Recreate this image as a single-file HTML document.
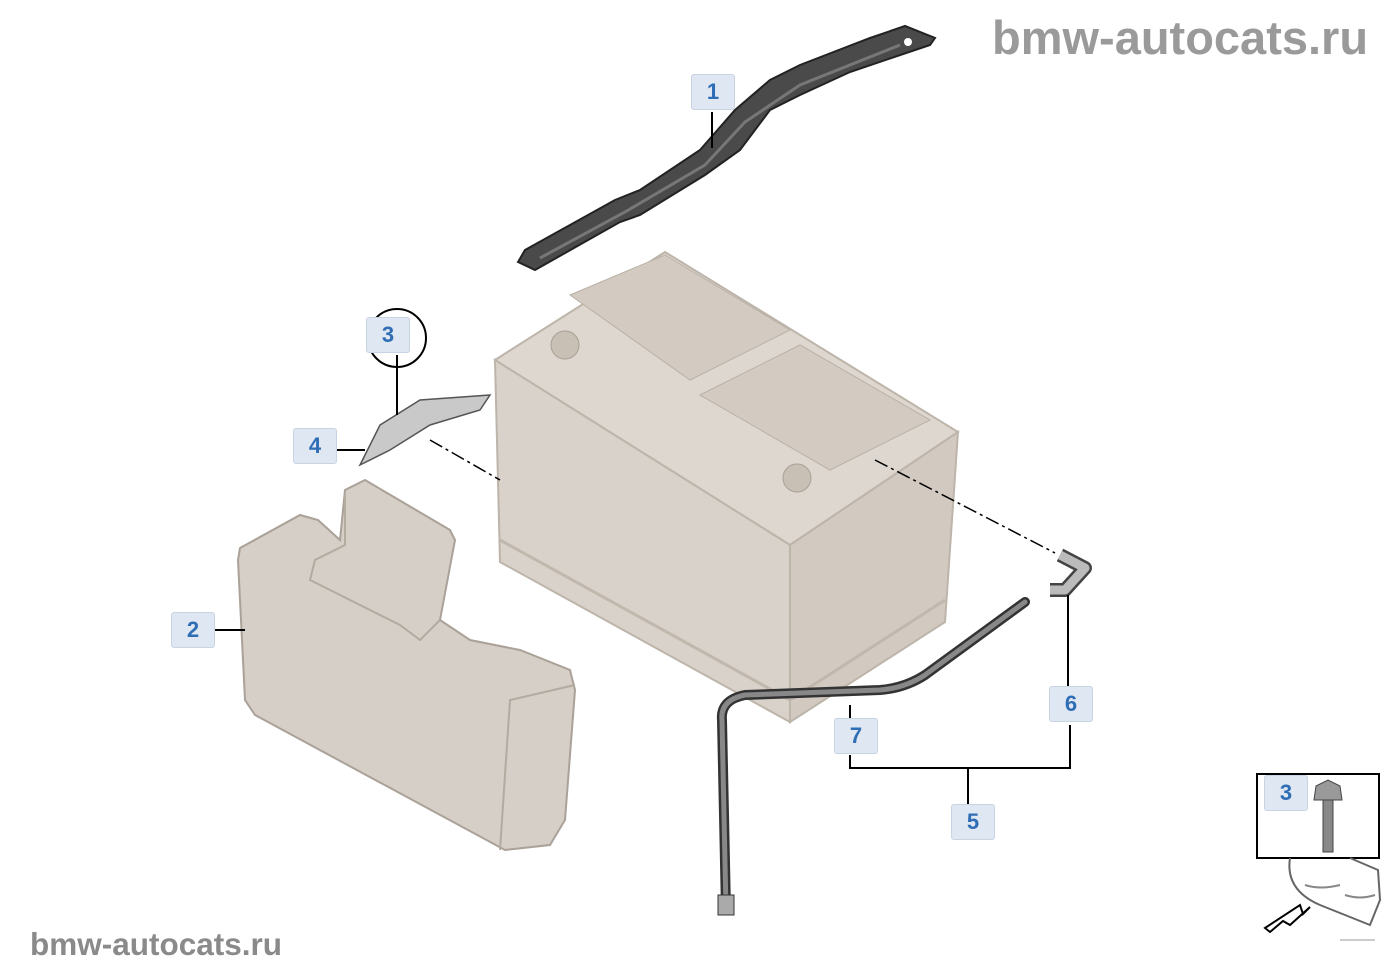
<!DOCTYPE html>
<html><head><meta charset="utf-8"><style>
html,body{margin:0;padding:0;background:#fff;}
body{width:1400px;height:980px;position:relative;overflow:hidden;font-family:"Liberation Sans",sans-serif;}
.wm{position:absolute;color:#9a9a9a;font-weight:bold;}
.lb{position:absolute;width:42px;height:34px;background:#dfe7f2;border:1px solid #c8d3e3;border-radius:3px;color:#2f6db5;font-weight:bold;font-size:22px;text-align:center;line-height:34px;}
</style></head><body>
<svg width="1400" height="980" style="position:absolute;left:0;top:0">
<path d="M518,262 L535,270 L620,222 L640,215 L705,175 L740,150 L770,110 L800,95 L850,72 L930,45 L935,38 L905,26 L870,38 L800,65 L770,80 L735,110 L700,150 L640,190 L615,200 L525,250 Z" fill="#4a4a4a" stroke="#222" stroke-width="2"/>
<path d="M540,258 L625,212 L705,165 L745,122 L800,85 L900,45" fill="none" stroke="#777" stroke-width="3"/>
<circle cx="908" cy="42" r="4" fill="#fff"/>
<polygon points="495,360 665,252 958,432 790,545" fill="#ddd7d0" stroke="#bdb4aa" stroke-width="2"/>
<polygon points="495,360 790,545 790,722 500,562" fill="#d9d2ca" stroke="#bdb4aa" stroke-width="2"/>
<polygon points="790,545 958,432 945,622 790,722" fill="#d2cac1" stroke="#bdb4aa" stroke-width="2"/>
<polygon points="570,295 665,255 790,330 690,380" fill="#d3cbc2" stroke="#b9b0a6"/>
<polygon points="700,395 800,345 930,420 830,470" fill="#d3cbc2" stroke="#b9b0a6"/>
<circle cx="565" cy="345" r="14" fill="#c8bfb5" stroke="#a9a096"/>
<circle cx="797" cy="478" r="14" fill="#c8bfb5" stroke="#a9a096"/>
<path d="M500,540 L790,700 L945,600" fill="none" stroke="#c0b7ad" stroke-width="3"/>
<path d="M240,548 L300,515 L318,520 L340,540 L345,490 L365,480 L450,530 L455,540 L440,620 L470,640 L520,650 L570,670 L575,690 L565,820 L550,845 L505,850 L255,715 L245,700 L238,560 Z" fill="#d6cfc7" stroke="#aaa198" stroke-width="2"/>
<path d="M345,495 L345,545 L315,560 L310,580 L400,625 L420,640 L440,620" fill="none" stroke="#b3aaa0" stroke-width="2"/>
<path d="M500,850 L510,700 L575,685" fill="none" stroke="#b3aaa0" stroke-width="2"/>
<polygon points="360,465 380,425 420,400 490,395 480,410 430,425 390,450" fill="#c9c9c9" stroke="#555" stroke-width="1.5"/>
<path d="M726,910 L722,720 Q720,700 745,695 L880,690 Q905,688 925,675 L1025,602" fill="none" stroke="#333" stroke-width="10" stroke-linecap="round"/>
<path d="M726,910 L722,720 Q720,700 745,695 L880,690 Q905,688 925,675 L1025,602" fill="none" stroke="#888" stroke-width="5" stroke-linecap="round"/>
<rect x="718" y="895" width="16" height="20" fill="#aaa" stroke="#333"/>
<path d="M1060,555 L1085,568 L1065,590 L1050,590" fill="none" stroke="#444" stroke-width="14" stroke-linejoin="round"/>
<path d="M1060,555 L1085,568 L1065,590 L1050,590" fill="none" stroke="#bbb" stroke-width="9" stroke-linejoin="round"/>
<g stroke="#000" stroke-width="2" fill="none">
<line x1="712" y1="112" x2="712" y2="148"/>
<line x1="397" y1="355" x2="397" y2="415"/>
<line x1="337" y1="450" x2="365" y2="450"/>
<line x1="215" y1="630" x2="245" y2="630"/>
<line x1="1068" y1="595" x2="1068" y2="687"/>
<line x1="850" y1="705" x2="850" y2="718"/>
<polyline points="850,755 850,768 1070,768 1070,725"/>
<line x1="968" y1="768" x2="968" y2="805"/>
<line x1="430" y1="440" x2="500" y2="480" stroke-dasharray="14,4,3,4" stroke-width="1.5"/>
<line x1="875" y1="460" x2="1055" y2="553" stroke-dasharray="14,4,3,4" stroke-width="1.5"/>
</g>
<circle cx="397" cy="338" r="29" fill="none" stroke="#000" stroke-width="2"/>
<rect x="1257" y="774" width="122" height="84" fill="#fff" stroke="#000" stroke-width="2"/>
<rect x="1323" y="800" width="10" height="52" fill="#888" stroke="#444"/>
<path d="M1314,800 L1316,786 L1328,780 L1340,786 L1342,800 Z" fill="#999" stroke="#444"/>
<path d="M1290,858 Q1285,890 1320,905 L1370,925 L1380,900 L1378,870 L1350,858" fill="none" stroke="#666" stroke-width="2"/>
<path d="M1305,885 Q1320,890 1340,885 M1345,895 Q1360,900 1375,895" fill="none" stroke="#888" stroke-width="2"/>
<line x1="1340" y1="940" x2="1375" y2="940" stroke="#999"/>
<polygon points="1265,928 1300,905 1303,914 1310,907 1290,925 1283,921 1270,932" fill="#fff" stroke="#000" stroke-width="2"/>
</svg>
<div class="wm" style="left:992px;top:10px;font-size:47px;">bmw-autocats.ru</div>
<div class="wm" style="left:30px;top:926px;font-size:31.5px;color:#8a8a8a">bmw-autocats.ru</div>
<div class="lb" style="left:691px;top:74px;">1</div>
<div class="lb" style="left:366px;top:317px;">3</div>
<div class="lb" style="left:293px;top:428px;">4</div>
<div class="lb" style="left:171px;top:612px;">2</div>
<div class="lb" style="left:834px;top:718px;">7</div>
<div class="lb" style="left:1049px;top:686px;">6</div>
<div class="lb" style="left:951px;top:804px;">5</div>
<div class="lb" style="left:1264px;top:775px;">3</div>
</body></html>
